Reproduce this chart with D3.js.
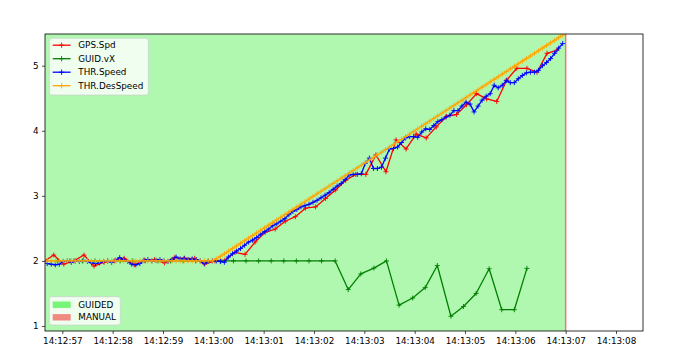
<!DOCTYPE html>
<html><head><meta charset="utf-8">
<script src="https://cdn.jsdelivr.net/npm/d3@7"></script>
<style>body{margin:0;background:#fff} text{font-family:"DejaVu Sans",sans-serif}</style>
</head><body><svg id="c" width="690" height="361"></svg>
<script>
// ---- data (seconds after 14:12:00) ----
const thrTime = [56.70,56.78,56.86,56.94,57.02,57.10,57.18,57.26,57.34,57.42,57.50,57.58,57.66,57.74,57.82,57.90,57.98,58.06,58.14,58.22,58.30,58.38,58.46,58.54,58.62,58.70,58.78,58.86,58.94,59.02,59.10,59.18,59.26,59.34,59.42,59.50,59.58,59.66,59.74,59.82,59.90,59.98,
60.06,60.14,60.22,60.30,60.38,60.46,60.54,60.62,60.70,60.78,60.86,60.94,61.02,61.10,61.18,61.26,61.34,61.42,61.50,61.58,61.66,61.74,61.82,61.90,61.98,62.06,62.14,62.22,62.30,62.38,62.46,62.54,62.62,62.70,62.78,62.86,62.94,63.02,63.10,63.18,63.26,63.34,63.42,63.50,63.58,63.66,63.74,63.82,63.90,63.98,64.06,64.14,64.22,64.30,64.38,64.46,64.54,64.62,64.70,64.78,64.86,64.94,65.02,65.10,65.18,65.26,65.34,65.42,65.50,65.58,65.66,65.74,65.82,65.90,65.98,66.06,66.14,66.22,66.30,66.38,66.46,66.54,66.62,66.70,66.78,66.86,66.94];
const thrDesSpeed = [2.00,2.00,2.00,2.00,2.00,2.00,2.00,2.00,2.00,2.00,2.00,2.00,2.00,2.00,2.00,2.00,2.00,2.00,2.00,2.00,2.00,2.00,2.00,2.00,2.00,2.00,2.00,2.00,2.00,2.00,2.00,2.00,2.00,2.00,2.00,2.00,2.00,2.00,2.00,2.00,2.00,2.00,
2.03,2.07,2.11,2.15,2.19,2.23,2.27,2.31,2.35,2.39,2.43,2.47,2.51,2.55,2.59,2.63,2.67,2.71,2.75,2.79,2.83,2.87,2.91,2.95,2.99,3.03,3.07,3.11,3.15,3.19,3.23,3.27,3.31,3.35,3.39,3.43,3.47,3.51,3.55,3.59,3.63,3.67,3.71,3.75,3.79,3.83,3.87,3.91,3.95,3.99,4.03,4.07,4.11,4.15,4.19,4.23,4.27,4.31,4.35,4.39,4.43,4.47,4.51,4.55,4.59,4.63,4.67,4.71,4.75,4.79,4.83,4.87,4.91,4.95,4.99,5.03,5.07,5.11,5.15,5.19,5.23,5.27,5.31,5.35,5.39,5.43,5.47];
const thrSpeed = [1.96,1.95,1.94,1.95,1.99,2.00,1.98,2.00,1.99,2.01,1.99,1.97,1.96,1.97,1.99,2.00,1.98,2.01,2.05,2.02,1.99,1.95,1.94,1.96,2.01,2.02,2.00,2.01,2.02,2.00,1.99,2.02,2.06,2.03,2.04,2.02,2.03,2.02,2.00,1.96,1.99,2.00,
2.00,1.99,1.98,2.06,2.11,2.15,2.19,2.24,2.29,2.32,2.36,2.41,2.45,2.49,2.54,2.57,2.61,2.65,2.71,2.76,2.79,2.83,2.85,2.87,2.90,2.93,2.97,3.01,3.05,3.10,3.15,3.19,3.25,3.32,3.33,3.33,3.34,3.50,3.58,3.42,3.42,3.44,3.58,3.72,3.73,3.75,3.82,3.89,3.91,3.91,3.90,3.98,4.03,4.02,4.08,4.14,4.17,4.21,4.24,4.31,4.31,4.38,4.44,4.41,4.29,4.38,4.47,4.53,4.57,4.70,4.66,4.70,4.77,4.74,4.74,4.80,4.85,4.89,4.90,4.90,4.93,5.00,5.05,5.11,5.19,5.27,5.34];
const gpsTime = [56.63,56.83,57.03,57.23,57.43,57.63,57.83,58.03,58.23,58.43,58.63,58.83,59.03,59.23,59.43,59.63,59.83,60.03,60.23,60.43,60.63,60.83,61.03,61.23,61.43,61.63,61.83,62.03,62.23,62.43,62.63,62.83,63.03,63.23,63.43,63.63,63.83,64.03,64.23,64.43,64.63,64.83,65.03,65.23,65.43,65.63,65.83,66.03,66.23,66.43,66.63,66.83];
const gpsSpd = [1.99,2.09,1.95,2.00,2.09,1.92,1.98,2.00,2.04,1.94,2.01,2.02,1.97,2.05,2.04,2.04,1.95,2.00,2.01,2.13,2.10,2.29,2.44,2.49,2.61,2.68,2.81,2.83,2.96,3.09,3.24,3.33,3.33,3.63,3.37,3.86,3.72,3.95,3.89,4.06,4.22,4.25,4.40,4.57,4.49,4.45,4.78,4.96,4.96,4.90,5.19,5.24];
const guidTime = [56.90,57.15,57.40,57.65,57.90,58.15,58.40,58.65,58.90,59.15,59.40,59.65,59.90,60.15,60.40,60.65,60.90,61.15,61.40,61.65,61.90,62.15,62.42,62.68,62.93,63.19,63.44,63.69,63.96,64.21,64.45,64.72,64.97,65.22,65.48,65.73,65.98,66.23];
const guidVx = [2.00,2.00,2.00,2.00,2.00,2.00,2.00,2.00,2.00,2.00,2.00,2.00,2.00,2.00,2.00,2.00,2.00,2.00,2.00,2.00,2.00,2.00,2.00,1.56,1.80,1.89,2.00,1.32,1.43,1.59,1.93,1.15,1.30,1.50,1.88,1.25,1.25,1.885];
const seriesNames = ["GPS.Spd","GUID.vX","THR.Speed","THR.DesSpeed"];
const seriesColors = ["#ff0000","#008000","#0000ff","#ffa500"];
const modeNames = ["GUIDED","MANUAL"];
const modeStart = [56.5, 66.985];
const modeEnd = [66.995, 67.015];
const modeColors = ["rgba(0,230,0,0.31)","rgba(235,0,0,0.5)"];
const modeLegendColors = ["rgba(0,235,0,0.5)","rgba(240,40,40,0.55)"];
const yTicks = [1,2,3,4,5];

// ---- chart ----
const svg = d3.select("#c");
const L=45, R=643, T=34, B=331;
const T0 = Date.UTC(2024,0,1,14,12,0);
const D = s => new Date(T0 + Math.round(s*1000));
const x = d3.scaleUtc().domain([D(56.656), D(68.536)]).range([L,R]);
const y = d3.scaleLinear().domain([0.923, 5.487]).range([B,T]);
const fs = 8.8;

svg.append("defs").append("clipPath").attr("id","clip")
  .append("rect").attr("x",L).attr("y",T).attr("width",R-L).attr("height",B-T);

const plot = svg.append("g").attr("clip-path","url(#clip)");
plot.selectAll("rect.mode").data(modeNames).join("rect")
  .attr("x",(d,i)=>x(D(modeStart[i])))
  .attr("width",(d,i)=>x(D(modeEnd[i]))-x(D(modeStart[i])))
  .attr("y",T).attr("height",B-T)
  .attr("fill",(d,i)=>modeColors[i]);

const series = [
  {t:gpsTime, v:gpsSpd},
  {t:guidTime, v:guidVx},
  {t:thrTime, v:thrSpeed},
  {t:thrTime, v:thrDesSpeed}
];
const plus = r => `M${-r},0H${r}M0,${-r}V${r}`;
series.forEach((s,i)=>{
  const pts = s.t.map((t,j)=>[x(D(t)), y(s.v[j])]);
  plot.append("path").attr("d", d3.line()(pts)).attr("fill","none")
    .attr("stroke",seriesColors[i]).attr("stroke-width",1.3).attr("stroke-linejoin","round");
  plot.append("g").selectAll("path").data(pts).join("path")
    .attr("transform",p=>`translate(${p[0]},${p[1]})`)
    .attr("d",plus(2.5)).attr("stroke",seriesColors[i]).attr("stroke-width",0.9).attr("fill","none");
});

// axes
const xa = svg.append("g").attr("transform",`translate(0,${B})`)
  .call(d3.axisBottom(x).ticks(d3.utcSecond.every(1)).tickFormat(d3.utcFormat("%H:%M:%S")).tickSize(3).tickPadding(3.6));
const ya = svg.append("g").attr("transform",`translate(${L},0)`)
  .call(d3.axisLeft(y).tickValues(yTicks).tickFormat(d3.format("d")).tickSize(3).tickPadding(3.5));
[xa,ya].forEach(a=>{
  a.select(".domain").remove();
  a.selectAll("line").attr("stroke","#000").attr("stroke-width",0.7);
  a.selectAll("text").attr("font-size",fs).attr("fill","#000").attr("font-family","DejaVu Sans");
});
svg.append("rect").attr("x",L).attr("y",T).attr("width",R-L).attr("height",B-T)
  .attr("fill","none").attr("stroke","#000").attr("stroke-width",0.8);

// legend 1
const lg1 = svg.append("g");
lg1.append("rect").attr("x",49.3).attr("y",38.3).attr("width",99).attr("height",56.7).attr("rx",2.5)
  .attr("fill","rgba(255,255,255,0.8)").attr("stroke","rgba(204,204,204,0.8)").attr("stroke-width",0.8);
seriesNames.forEach((n,i)=>{
  const cy = 45.2 + 13.5*i;
  lg1.append("line").attr("x1",52.7).attr("x2",70.6).attr("y1",cy).attr("y2",cy)
    .attr("stroke",seriesColors[i]).attr("stroke-width",1.3);
  lg1.append("path").attr("transform",`translate(61.6,${cy})`).attr("d",plus(2.7))
    .attr("stroke",seriesColors[i]).attr("stroke-width",0.9);
  lg1.append("text").attr("x",78.3).attr("y",cy).attr("dy","0.36em").attr("font-size",fs).text(n);
});

// legend 2
const lg2 = svg.append("g");
lg2.append("rect").attr("x",49.3).attr("y",296.7).attr("width",71).attr("height",28.3).attr("rx",2.5)
  .attr("fill","rgba(255,255,255,0.8)").attr("stroke","rgba(204,204,204,0.8)").attr("stroke-width",0.8);
modeNames.forEach((n,i)=>{
  const cy = 304.7 + 12.6*i;
  lg2.append("rect").attr("x",52.7).attr("y",cy-3.2).attr("width",18).attr("height",6.4)
    .attr("fill",modeLegendColors[i]);
  lg2.append("text").attr("x",78.3).attr("y",cy).attr("dy","0.36em").attr("font-size",fs).text(n);
});
</script></body></html>
